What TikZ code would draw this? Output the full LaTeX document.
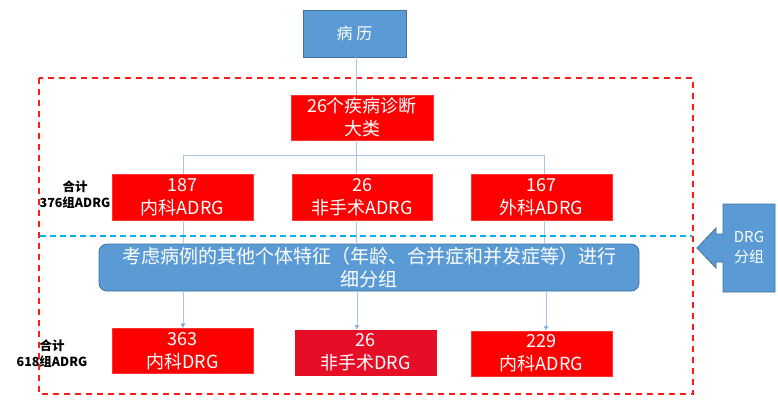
\documentclass[tikz,border=0pt]{standalone}
\usepackage{fontspec}
\setmainfont{Noto Sans CJK SC}
\usetikzlibrary{arrows.meta}
\definecolor{bfill}{HTML}{5B9BD5}
\definecolor{bdraw}{HTML}{41719C}
\definecolor{rbox}{HTML}{FF0000}
\definecolor{rbox2}{HTML}{E60D26}
\definecolor{lnk}{HTML}{A9C6E8}
\definecolor{arr}{HTML}{5B9BD5}
\definecolor{dblue}{HTML}{00B0F0}
\definecolor{dred}{HTML}{FF1A1A}
\tikzset{
  redbox/.style={fill=rbox, draw=rbox!80!white, line width=0.5pt, text=white, align=center, inner sep=0pt},
  bluebox/.style={fill=bfill, draw=bdraw, line width=0.8pt, text=white, align=center, inner sep=0pt},
  link/.style={draw=lnk, line width=0.8pt},
  arrlink/.style={draw=lnk, line width=0.8pt, -{Triangle[length=5pt,width=5pt,fill=arr]}},
  side/.style={align=center, font=\bfseries\fontsize{12.5}{16}\selectfont, text=black},
  big/.style={font=\fontsize{18}{23}\selectfont},
}
\begin{document}
\begin{tikzpicture}[x=1pt,y=-1pt]
\useasboundingbox (0,0) rectangle (778,405);
% frames
\draw[dred, line width=2.5pt, dash pattern=on 6pt off 5pt] (39,78) rectangle (693,394);
% nodes
\node[bluebox, minimum width=103pt, minimum height=47pt, font=\fontsize{16}{20}\selectfont] (bl) at (354.5,33.5) {病 历};
\node[redbox, minimum width=142pt, minimum height=45pt, big] (cat) at (362,117.5) {26个疾病诊断\\大类};
\node[redbox, minimum width=141pt, minimum height=46pt, big] (a1) at (182.5,197) {187\\内科ADRG};
\node[redbox, minimum width=140pt, minimum height=46pt, big] (a2) at (362,197) {26\\非手术ADRG};
\node[redbox, minimum width=141pt, minimum height=46pt, big] (a3) at (541.5,197) {167\\外科ADRG};
\node[bluebox, rounded corners=8pt, minimum width=540pt, minimum height=47pt, font=\fontsize{19}{23}\selectfont] (big) at (369,267.5) {考虑病例的其他个体特征（年龄、合并症和并发症等）进行\\细分组};
\node[redbox, minimum width=141pt, minimum height=45pt, big] (d1) at (182.5,351) {363\\内科DRG};
\node[redbox, fill=rbox2, draw=rbox2, minimum width=141pt, minimum height=45pt, big] (d2) at (365.5,352.5) {26\\非手术DRG};
\node[redbox, minimum width=141pt, minimum height=45pt, big] (d3) at (541.5,353.5) {229\\内科ADRG};
\node[side] (l1) at (75,195) {合计\\376组ADRG};
\node[side] (l2) at (52,354) {合计\\618组ADRG};
% connectors
\coordinate (h1) at (183,155);
\coordinate (h2) at (356,155);
\coordinate (h3) at (544,155);
\draw[link] (bl.south -| h2) -- (cat.north -| h2);
\draw[link] (cat.south -| h2) -- (h2);
\draw[link] (h1) -- (h3);
\draw[link] (h1) -- (a1.north -| h1);
\draw[link] (h2) -- (a2.north -| h2);
\draw[link] (h3) -- (a3.north -| h3);
\draw[link] (a1.south -| h1) -- (big.north -| h1);
\draw[link] (a2.south -| h2) -- (big.north -| h2);
\draw[link] (a3.south -| h3) -- (big.north -| h3);
\draw[arrlink] (big.south -| h1) -- (d1.north -| h1);
\draw[arrlink] (big.south -| 357,0) -- (d2.north -| 357,0);
\draw[arrlink] (big.south -| 546,0) -- (d3.north -| 546,0);
% blue dashed line
\draw[dblue, line width=1.6pt, dash pattern=on 6pt off 4pt] (40,236) -- (692,236);
% DRG callout arrow
\path[fill=bfill, draw=bdraw, line width=0.8pt] (723,204) -- (775,204) -- (775,292) -- (723,292) -- (723,262) -- (716,262) -- (716,268) -- (697,248) -- (716,228) -- (716,234) -- (723,234) -- cycle;
\node[text=white, align=center, font=\fontsize{15}{20}\selectfont] (drg) at (749,248) {DRG\\分组};
\end{tikzpicture}
\end{document}
